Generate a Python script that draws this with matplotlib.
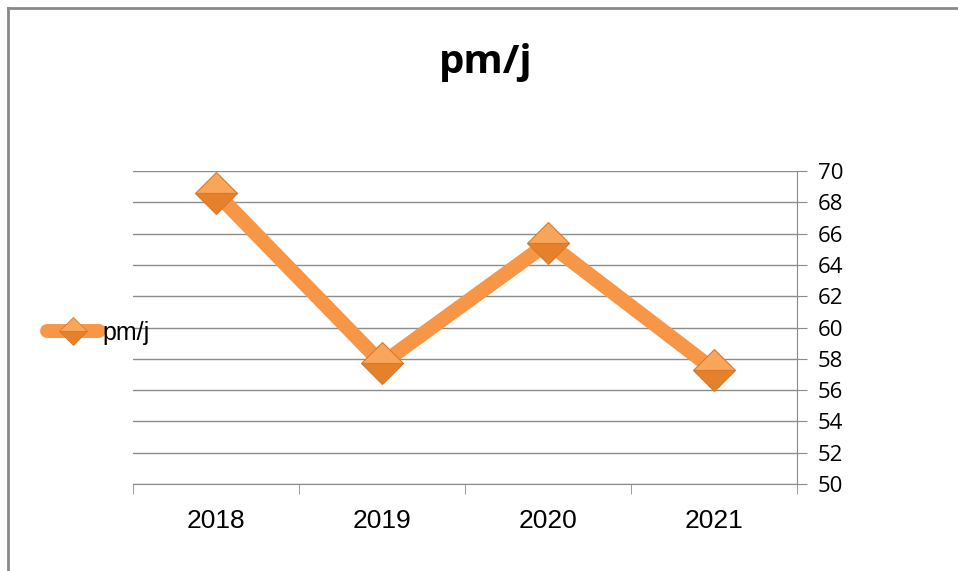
import matplotlib.pyplot as plt
from matplotlib.lines import Line2D

years = ['2018', '2019', '2020', '2021']
values = [68.6, 57.7, 65.4, 57.3]
series_name = 'pm/j'
y_ticks = list(range(50, 71, 2))

orange = '#F79646'
grey = '#8C8C8C'

fig = plt.figure(figsize=(9.58, 5.71), dpi=100)
ax = fig.add_axes([133/958, 1-484/571, 664/958, 313/571])

x = list(range(len(years)))
ax.plot(x, values, color=orange, lw=10.5, solid_capstyle='butt',
        solid_joinstyle='round', zorder=3)
ax.plot(x, values, ls='none', marker='D', ms=21, fillstyle='top',
        markerfacecolor='#F9A65B', markerfacecoloralt='#E5802B',
        markeredgecolor='#D97A2B', markeredgewidth=0.8, zorder=4)

ax.set_xlim(-0.5, len(years) - 0.5)
ax.set_ylim(50, 70)
ax.set_yticks(y_ticks)
ax.yaxis.tick_right()
ax.tick_params(axis='y', direction='out', length=7, color=grey, pad=8,
               labelsize=16, labelfontfamily='Open Sans')
ax.set_xticks(x)
ax.set_xticklabels(years)
ax.set_xticks([i - 0.5 for i in range(len(years) + 1)], minor=True)
ax.tick_params(axis='x', which='major', length=0, pad=18, labelsize=19,
               labelfontfamily='Liberation Sans')
ax.tick_params(axis='x', which='minor', direction='out', length=7, color=grey)
ax.grid(axis='y', color=grey, lw=1)
for s in ['left', 'top']:
    ax.spines[s].set_visible(False)
ax.spines['right'].set_color(grey)
ax.spines['bottom'].set_color(grey)
ax.set_axisbelow(True)

fig.text(486/958, 1-62/571, series_name, ha='center', va='center',
         fontsize=29, fontweight='bold', family='Open Sans')

handle = Line2D([], [], color=orange, lw=10, marker='D', ms=14, fillstyle='top',
                solid_capstyle='round',
                markerfacecolor='#F9A65B', markerfacecoloralt='#E5802B',
                markeredgecolor='#D97A2B', markeredgewidth=0.6)
fig.legend([handle], [series_name], loc='center left',
           bbox_to_anchor=(24/958, 1-333/571), frameon=False,
           handlelength=2.1, handletextpad=0.15,
           prop={'family': 'Liberation Sans', 'size': 18})

# outer chart border
fig.add_artist(Line2D([8/958, 8/958], [0, 1-8/571], color='#8A8A8A', lw=2))
fig.add_artist(Line2D([8/958, 1], [1-8/571, 1-8/571], color='#8A8A8A', lw=2))

fig.savefig('out.png', dpi=100)
